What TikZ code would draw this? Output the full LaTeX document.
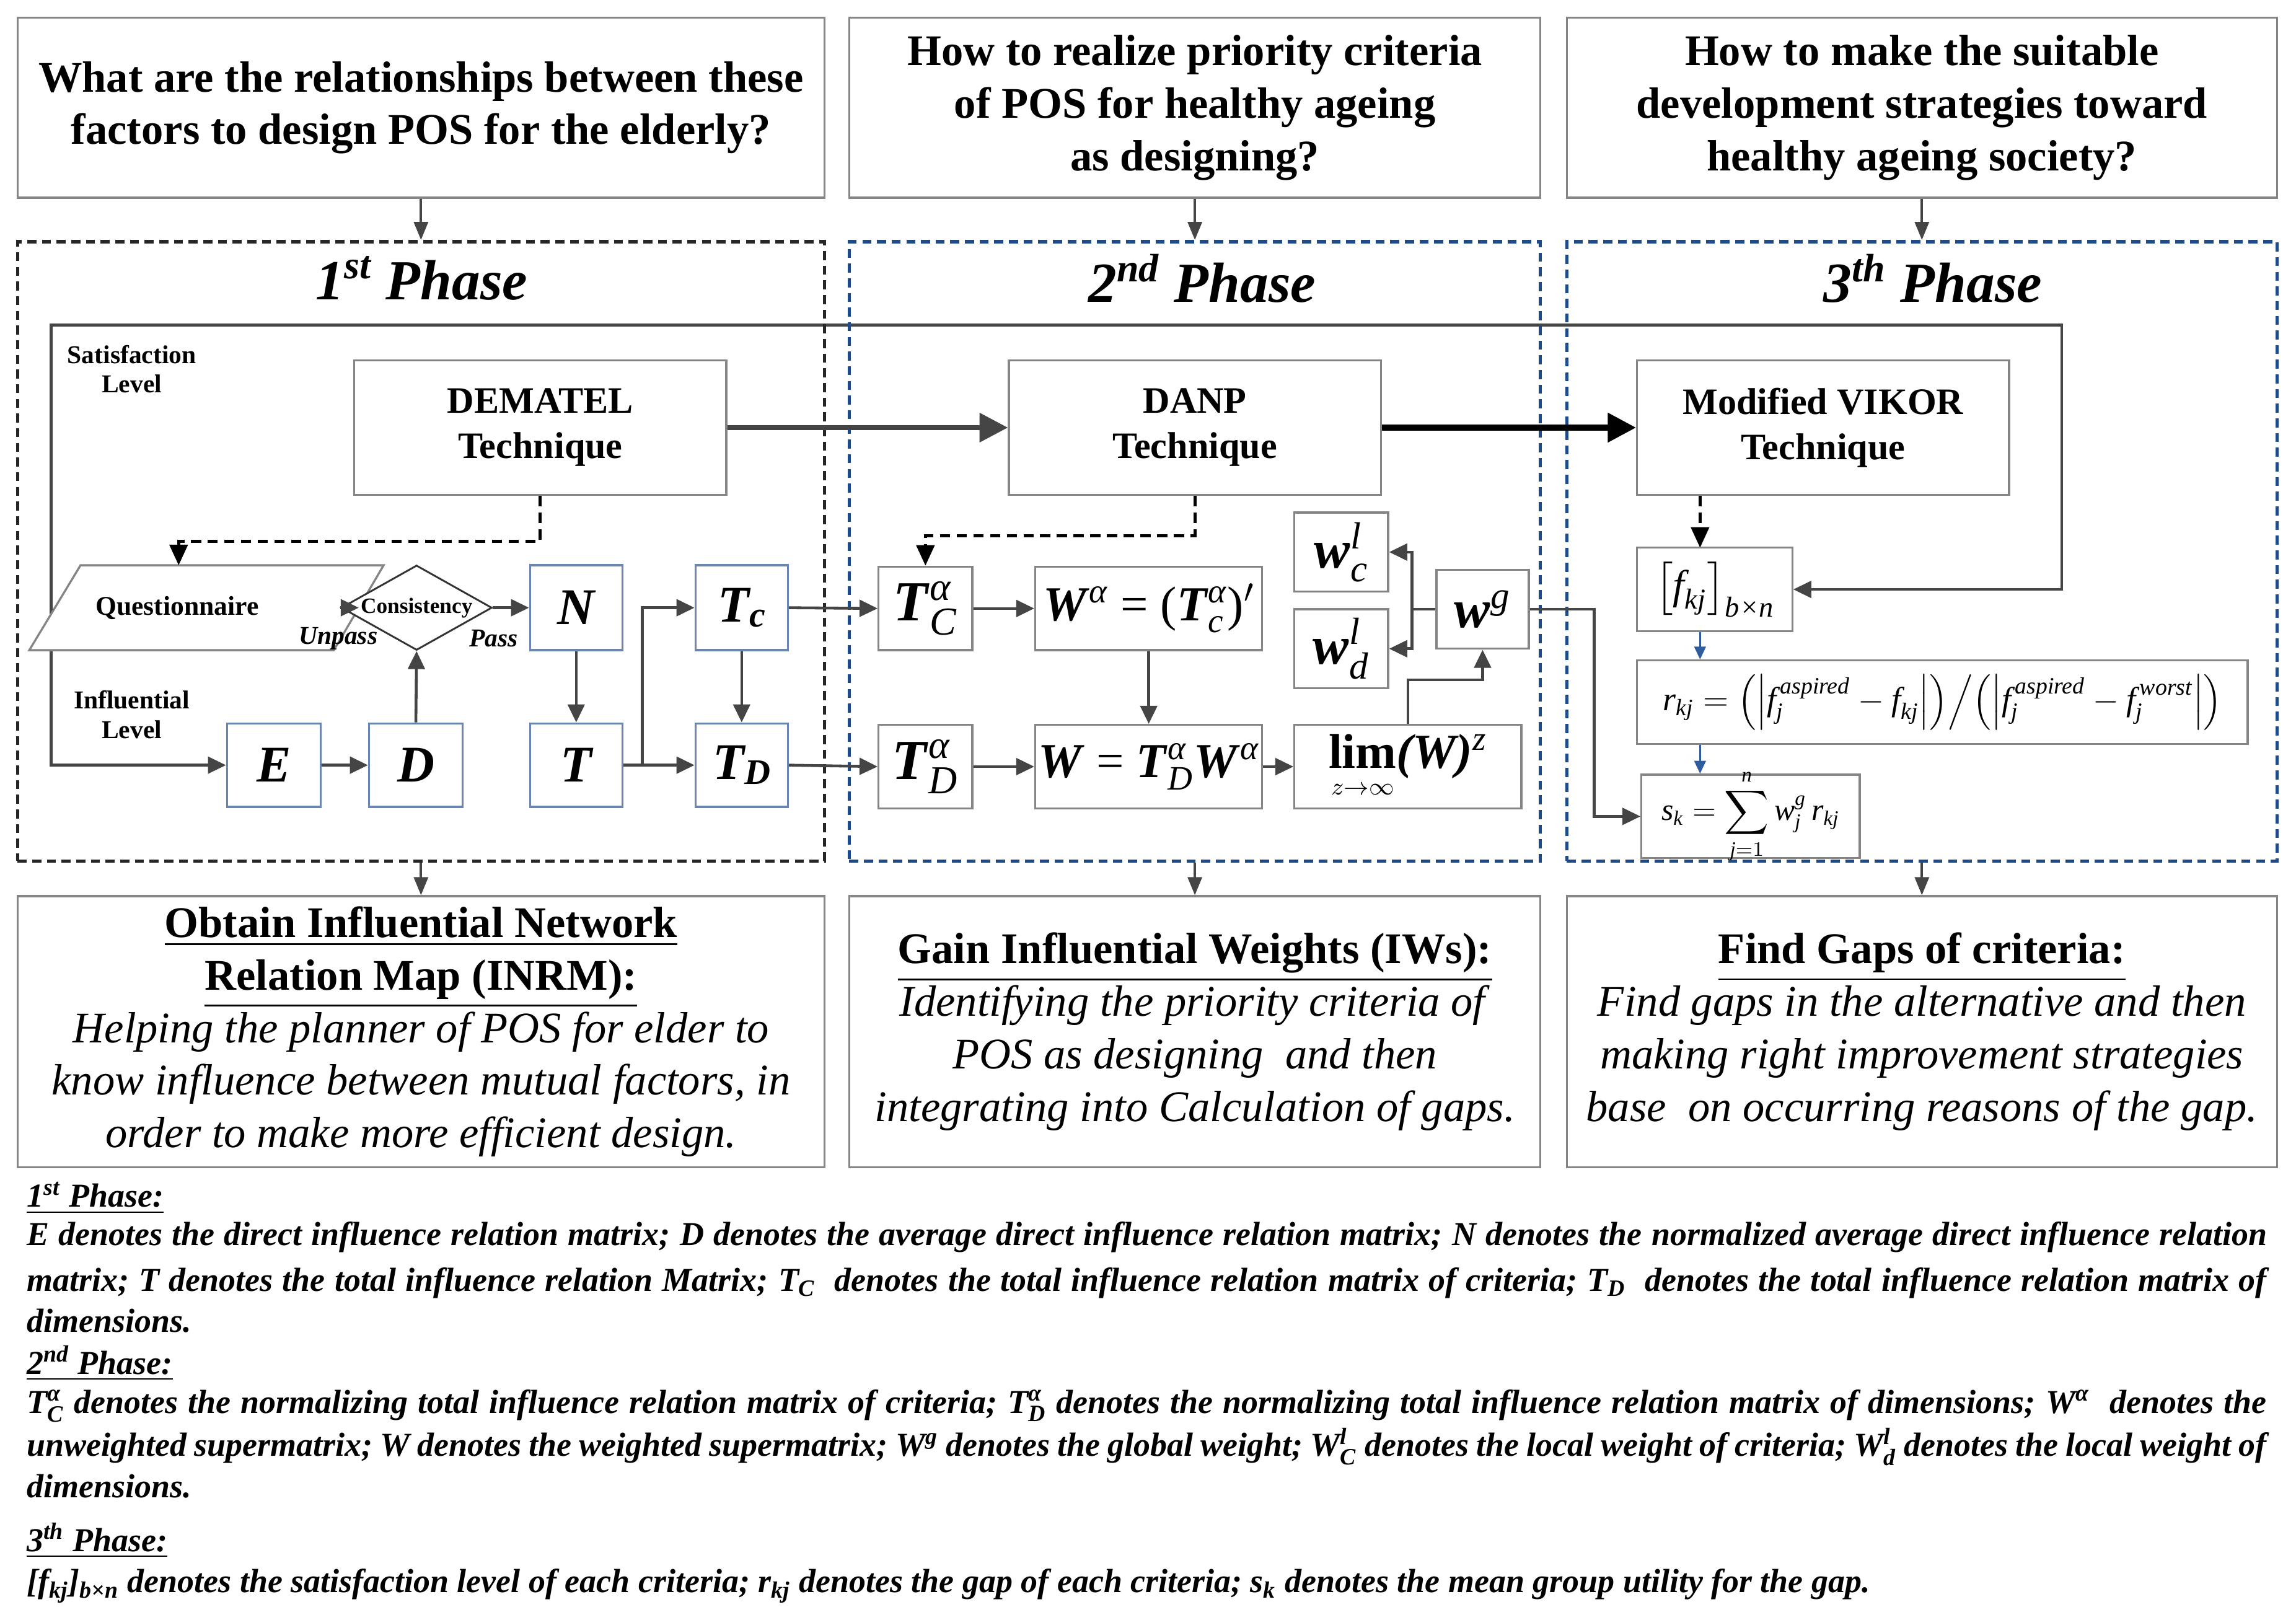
\RequirePackage{fix-cm}
\documentclass[tikz,border=0pt]{standalone}
\usepackage{amsmath}
\usepackage{fontspec}
\setmainfont{Liberation Serif}
\usetikzlibrary{arrows.meta,shapes.geometric,calc}
\pgfdeclarelayer{bg}
\pgfsetlayers{bg,main}
\definecolor{bx}{HTML}{858585}
\definecolor{bb}{HTML}{6A86B0}
\definecolor{ar}{HTML}{454545}
\definecolor{nv}{HTML}{1F4A8A}
\definecolor{ab}{HTML}{2E5C9E}
\newcommand\mysupsub[2]{$^{\text{#1}}_{\text{#2}}$}
\newcommand\mysup[1]{$^{\text{#1}}$}
\newcommand\mysub[1]{$_{\text{#1}}$}
\newcommand\fz[2]{\fontsize{#1}{#2}\selectfont}
\newcommand\myit[1]{\text{\itshape #1}}
\newcommand\lgline[1]{\makebox[30.6cm][s]{#1}}
% box node from corner coordinates (in picture units)
\newcommand\bnode[7]{%
 \pgfmathsetmacro\bcx{(#3+#5)/2}\pgfmathsetmacro\bcy{(#4+#6)/2}%
 \pgfmathsetmacro\bww{(#5-#3)*0.02}\pgfmathsetmacro\bhh{(#6-#4)*0.02}%
 \node[#1, minimum width=\bww cm, minimum height=\bhh cm] (#2) at (\bcx,\bcy) {#7};}
\tikzset{
 box/.style={draw=bx, line width=0.8pt, fill=white, inner sep=0pt},
 bbox/.style={draw=bb, line width=0.8pt, fill=white, inner sep=0pt},
 phd/.style={line width=1.3pt, dash pattern=on 3.5pt off 2.2pt, inner sep=0pt},
 arr/.style={draw=ar, line width=1.1pt, -{Triangle[length=7pt,width=6.5pt]}},
 arrs/.style={draw=ar, line width=0.9pt, -{Triangle[length=7pt,width=5.5pt]}},
 fb/.style={draw=ar, line width=1.1pt, {Triangle[length=7pt,width=6.5pt]}-{Triangle[length=7pt,width=6.5pt]}},
 dsh/.style={draw=black, line width=1.2pt, dash pattern=on 4pt off 2.5pt, -{Triangle[length=8pt,width=7pt]}},
 barr/.style={draw=ab, line width=0.7pt, -{Triangle[length=5pt,width=4.5pt]}},
 qfont/.style={font=\fz{17}{20.4}\bfseries, align=center},
 tfont/.style={font=\fz{22}{26}\bfseries\itshape},
 lg/.style={anchor=west, inner sep=0pt, font=\fz{13}{15}\bfseries\itshape},
 big/.style={font=\fz{20}{24}\bfseries\itshape},
}
\begin{document}
\begin{tikzpicture}[x=0.02cm,y=-0.02cm]
\useasboundingbox (0,0) rectangle (1568,1106);
\begin{pgfonlayer}{bg}\fill[white] (0,0) rectangle (1568,1106);\end{pgfonlayer}

% question boxes
\bnode{box, qfont}{q1}{12}{12}{563}{135}{What are the relationships between these\\factors to design POS for the elderly?}
\bnode{box, qfont}{q2}{580}{12}{1052}{135}{How to realize priority criteria\\of POS for healthy ageing\\as designing?}
\bnode{box, qfont}{q3}{1070}{12}{1555}{135}{How to make the suitable\\development strategies toward\\healthy ageing society?}

% phase boxes
\bnode{phd, draw=black!85}{p1}{12}{165}{563}{588}{}
\bnode{phd, draw=nv}{p2}{580}{165}{1052}{588}{}
\bnode{phd, draw=nv}{p3}{1070}{165}{1555}{588}{}
\node[tfont] (p1t) at (288,190) {1\textsuperscript{st} Phase};
\node[tfont] (p2t) at (821,190) {2\textsuperscript{nd} Phase};
\node[tfont] (p3t) at (1320,190) {3\textsuperscript{th} Phase};

% result boxes
\bnode{box, font=\fz{17}{20.4}, align=center}{b1}{12}{612}{563}{797}{\textbf{\underline{Obtain Influential Network}}\\\textbf{\underline{Relation Map (INRM):}}\\\textit{Helping the planner of POS for elder to}\\\textit{know influence between mutual factors, in}\\\textit{order to make more efficient design.}}
\bnode{box, font=\fz{17}{20.4}, align=center}{b2}{580}{612}{1052}{797}{\textbf{\underline{Gain Influential Weights (IWs):}}\\\textit{Identifying the priority criteria of}\\\textit{POS as designing\ \ and then}\\\textit{integrating into Calculation of gaps.}}
\bnode{box, font=\fz{17}{20.4}, align=center}{b3}{1070}{612}{1555}{797}{\textbf{\underline{Find Gaps of criteria:}}\\\textit{Find gaps in the alternative and then}\\\textit{making right improvement strategies}\\\textit{base\ \ on occurring reasons of the gap.}}

\draw[arrs] (q1.south) -- (p1.north);
\draw[arrs] (q2.south) -- (p2.north);
\draw[arrs] (q3.south) -- (p3.north);
\draw[arrs] (p1.south) -- (b1.north);
\draw[arrs] (p2.south) -- (b2.north);
\draw[arrs] (p3.south) -- (b3.north);

% technique boxes
\bnode{box, font=\fz{14.5}{17.6}\bfseries, align=center}{dem}{242}{246}{496}{338}{DEMATEL\\Technique}
\bnode{box, font=\fz{14.5}{17.6}\bfseries, align=center}{danp}{689}{246}{943}{338}{DANP\\Technique}
\bnode{box, font=\fz{14.5}{17.6}\bfseries, align=center}{vik}{1118}{246}{1372}{338}{Modified VIKOR\\Technique}

\node[font=\fz{10}{11.4}\bfseries, align=center] (sl) at (90,252) {Satisfaction\\Level};
\node[font=\fz{10}{11.4}\bfseries, align=center] (il) at (90,488) {Influential\\Level};

% phase 1 small boxes
\bnode{bbox, big}{N}{362}{386}{425}{444}{N}
\bnode{bbox, big}{T}{362}{494}{425}{551}{T}
\bnode{bbox, big}{E}{155}{494}{219}{551}{E}
\bnode{bbox, big}{D}{252}{494}{316}{551}{D}
\bnode{bbox, big}{Tc}{475}{386}{538}{444}{T\raisebox{-2pt}{\fz{14}{14}c}}
\bnode{bbox, big}{TD}{475}{494}{538}{551}{T\raisebox{-2pt}{\fz{14}{14}D}}

% phase 2 boxes
\bnode{box, font=\fz{22}{26}}{tca}{600}{387}{664}{444}{\textbf{\textit{T}}{\itshape\mysupsub{α}{C}}}
\bnode{box, font=\fz{19}{23}}{wa}{707}{387}{862}{444}{\textbf{\textit{W}}{\itshape\mysup{α}} = (\textbf{\textit{T}}{\itshape\mysupsub{α}{c}})$'$}
\bnode{box, font=\fz{22}{26}}{tda}{600}{495}{664}{552}{\textbf{\textit{T}}{\itshape\mysupsub{α}{D}}}
\bnode{box, font=\fz{19}{23}}{w}{707}{495}{862}{552}{\textbf{\textit{W}} = \textbf{\textit{T}}{\itshape\mysupsub{α}{D}}\textbf{\textit{W}}{\itshape\mysup{α}}}
\bnode{box, label={center:\fz{19}{23}$\mathop{\text{\bfseries lim}}\limits_{\scriptscriptstyle z\to\infty}$\textbf{\textit{(W)}}{\itshape\mysup{z}}}}{lim}{884}{495}{1039}{552}{}
\bnode{box, font=\fz{21}{25}}{wcl}{884}{350}{948}{404}{\textbf{\textit{w}}{\itshape\mysupsub{l}{c}}}
\bnode{box, font=\fz{21}{25}}{wdl}{884}{416}{948}{470}{\textbf{\textit{w}}{\itshape\mysupsub{l}{d}}}
\bnode{box, font=\fz{21}{25}}{wg}{981}{389}{1044}{443}{\textbf{\textit{w}}{\itshape\mysup{g}}}

% phase 3 boxes
\bnode{box, font=\fz{16}{19}}{fkj}{1118}{374}{1224}{431}{$\bigl[\myit{f}_{\myit{kj}}\bigr]_{\myit{b×n}}$}
\bnode{box, font=\fz{13}{16}}{rkj}{1118}{451}{1535}{508}{$\myit{r}_{\myit{kj}} = \Bigl(\Bigl|\myit{f}^{\,\myit{aspired}}_{\myit{j}} - \myit{f}_{\myit{kj}}\Bigr|\Bigr)\Big/\Bigl(\Bigl|\myit{f}^{\,\myit{aspired}}_{\myit{j}} - \myit{f}^{\,\myit{worst}}_{\myit{j}}\Bigr|\Bigr)$}
\bnode{box, label={center:\fz{12}{14}$\myit{s}_{\myit{k}} = \displaystyle\sum_{\myit{j}=1}^{\myit{n}} \myit{w}^{\myit{g}}_{\myit{j}}\,\myit{r}_{\myit{kj}}$}}{sk}{1121}{529}{1270}{586}{}

% feedback loop
\coordinate (lt) at (35,222);
\coordinate (rt) at (1408,222);
\begin{pgfonlayer}{bg}
\draw[fb] (fkj.east) -| (rt) -- (lt) |- (E.west);
\end{pgfonlayer}

% questionnaire and consistency
\filldraw[fill=white, draw=bx, line width=0.8pt] (55,386) -- (262,386) -- (228,444) -- (20,444) -- cycle;
\node[font=\fz{10.5}{12}\bfseries] (q) at (121,415) {Questionnaire};
\coordinate (qe) at (245,415);
\coordinate (qn) at (122,386);
\node[diamond, draw=black!80, line width=0.7pt, fill=white, inner sep=0pt, minimum width=2.06cm, minimum height=1.16cm, label={center:\fz{8.5}{10}\bfseries Consistency}] (cons) at (284.5,415) {};
\node[font=\fz{10}{12}\bfseries\itshape] (up) at (231,436) {Unpass};
\node[font=\fz{10}{12}\bfseries\itshape] (ps) at (337,436) {Pass};

% connectors
\draw[draw=ar, line width=2pt, -{Triangle[length=11pt,width=11pt]}] (dem.east) -- (danp.west);
\draw[draw=black, line width=2.3pt, -{Triangle[length=11pt,width=11pt]}] (danp.east) -- (vik.west);
\draw[dsh] (dem.south) -- ++(0,31) -| (qn);
\draw[dsh] (danp.south) -- ++(0,27) -| (tca.north);
\coordinate (fkjn) at (1161,374);
\draw[dsh] (fkjn |- vik.south) -- (fkjn);

\draw[arr] (cons.west) -- (qe);
\draw[arr] (cons.east) -- (N.west);
\draw[arr] (E.east) -- (D.west);
\draw[arr] (D.north) -- (cons.south);
\draw[arr] (N.south) -- (T.north);
\draw[arr] (T.east) -- (TD.west);
\draw[arr] ($(T.east)+(13,0)$) |- (Tc.west);
\draw[arr] (Tc.south) -- (TD.north);
\draw[arr] (Tc.east) -- (tca.west);
\draw[arr] (TD.east) -- (tda.west);
\draw[arr] (tca.east) -- (wa.west);
\draw[arr] (wa.south) -- (w.north);
\draw[arr] (tda.east) -- (w.west);
\draw[arr] (w.east) -- (lim.west);
\draw[arr] (lim.north) -- ++(0,-30) -| (wg.south);
\draw[arr] (wg.west) -- ++(-16,0) |- (wcl.east);
\draw[arr] (wg.west) -- ++(-16,0) |- (wdl.east);
\draw[arr] (wg.east) -- ++(44,0) |- (sk.west);
\draw[barr] (fkj.south -| fkjn) -- (rkj.north -| fkjn);
\draw[barr] (rkj.south -| fkjn) -- (sk.north -| fkjn);

% legend
\node[lg] (h1) at (18,818) {\underline{1\textsuperscript{st} Phase:}};
\node[lg] (l1) at (18,845) {\lgline{E denotes the direct influence relation matrix; D denotes the average direct influence relation matrix; N denotes the normalized average direct influence relation}};
\node[lg] (l2) at (18,876) {\lgline{matrix; T denotes the total influence relation Matrix; T\mysub{C}~ denotes the total influence relation matrix of criteria; T\mysub{D}~ denotes the total influence relation matrix of}};
\node[lg] (l3) at (18,902) {dimensions.};
\node[lg] (h2) at (18,931) {\underline{2\textsuperscript{nd} Phase:}};
\node[lg] (l4) at (18,960) {\lgline{T\mysupsub{α}{C} denotes the normalizing total influence relation matrix of criteria; T\mysupsub{α}{D} denotes the normalizing total influence relation matrix of dimensions; W\mysup{α}~ denotes the}};
\node[lg] (l5) at (18,988) {\lgline{unweighted supermatrix; W denotes the weighted supermatrix; W\mysup{g} denotes the global weight; W\mysupsub{l}{C} denotes the local weight of criteria; W\mysupsub{l}{d} denotes the local weight of}};
\node[lg] (l6) at (18,1015) {dimensions.};
\node[lg] (h3) at (18,1052) {\underline{3\textsuperscript{th} Phase:}};
\node[lg] (l7) at (18,1083) {[f\mysub{kj}]\mysub{b×n} denotes the satisfaction level of each criteria; r\mysub{kj} denotes the gap of each criteria; s\mysub{k} denotes the mean group utility for the gap.};
\end{tikzpicture}
\end{document}
